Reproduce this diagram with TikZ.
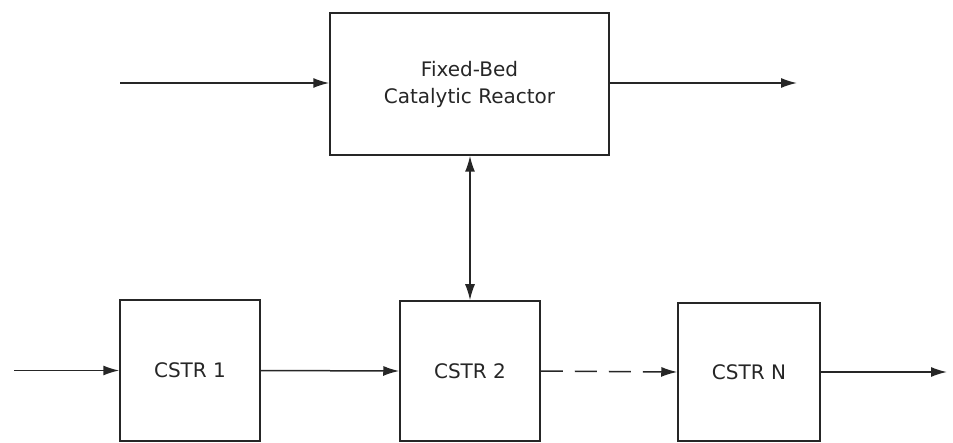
\documentclass[tikz,border=0pt]{standalone}
\usepackage{fontspec}
\setmainfont{DejaVu Sans}
\usetikzlibrary{arrows.meta}
\tikzset{
  unitbox/.style={draw, line width=1.5pt, inner sep=0pt, align=center,
    font=\fontsize{20}{27}\selectfont},
  flow/.style={line width=1.5pt, -{Latex[length=16pt,width=10pt]}},
}
\begin{document}
\begin{tikzpicture}[x=1pt,y=-1pt,color=black!85]
  \useasboundingbox (0,0) rectangle (953,443);

  % reactor units
  \node[unitbox, minimum width=279pt, minimum height=142pt] (fbr) at (469.5,84) {Fixed-Bed\\Catalytic Reactor};
  \node[unitbox, minimum width=140pt, minimum height=141pt] (c1) at (190,370.5) {CSTR 1};
  \node[unitbox, minimum width=140pt, minimum height=140pt] (c2) at (470,371) {CSTR 2};
  \node[unitbox, minimum width=142pt, minimum height=138pt] (cn) at (749,372) {CSTR N};

  % feed and product ends
  \coordinate (fbrin) at (120,83);
  \coordinate (fbrout) at (797,83);
  \coordinate (c1in) at (14,370.5);
  \coordinate (cnout) at (947,372);

  \draw[flow] (fbrin) -- (fbrin -| fbr.west);
  \draw[flow] (fbrout -| fbr.east) -- (fbrout);
  \draw[flow] (c1in) -- (c1.west);
  \draw[flow] (c1.east) -- (c2.west);
  \draw[flow, dash pattern=on 22pt off 12pt] (c2.east) -- (cn.west);
  \draw[flow] (cn.east) -- (cnout);
  \draw[flow, {Latex[length=16pt,width=10pt]}-{Latex[length=16pt,width=10pt]}] (fbr.south -| c2.north) -- (c2.north);
\end{tikzpicture}
\end{document}
